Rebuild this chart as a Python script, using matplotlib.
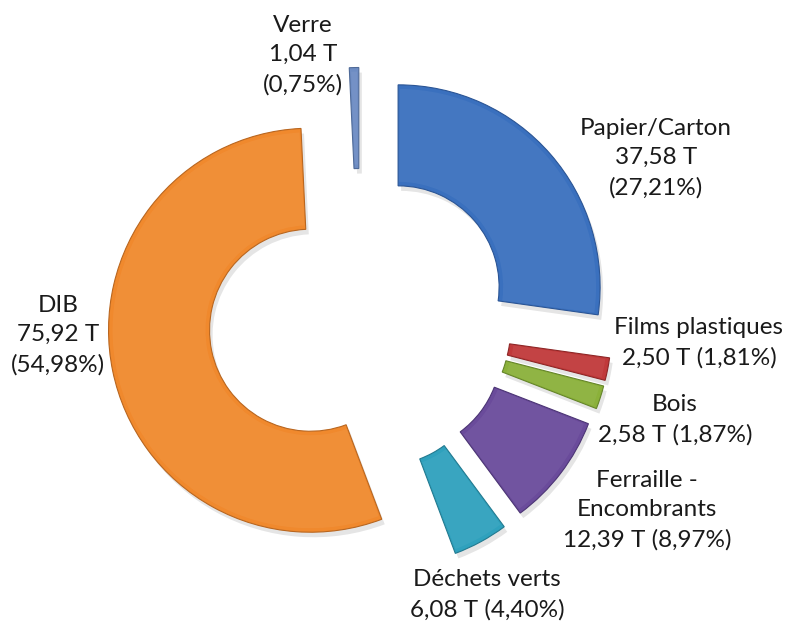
import matplotlib
matplotlib.use("Agg")
import matplotlib.pyplot as plt
from matplotlib.patches import Wedge

plt.rcParams['font.family'] = ['Lato', 'DejaVu Sans']

# données (tonnes)
noms = ["Papier/Carton", "Films plastiques", "Bois", "Ferraille -\nEncombrants",
        "Déchets verts", "DIB", "Verre"]
tonnes = [37.58, 2.50, 2.58, 12.39, 6.08, 75.92, 1.04]
couleurs = ["#3a70be", "#c0393a", "#8bb13a", "#6a4b9b", "#2fa1bd", "#f0892d", "#6d8cc3"]
bords = ["#2b5595", "#8e2626", "#65852a", "#4c3575", "#227a90", "#b9661f", "#4f6a98"]
sep = ["\n", " ", " ", " ", " ", "\n", "\n"]

# position des étiquettes en pixels (x, y centre du bloc)
pos_lab = [(656, 158), (699, 343), (675, 420), (647, 510), (487, 595), (58, 335), (303, 55)]

W, H = 787, 624
cx, cy, R = 360, 320, 202

fig = plt.figure(figsize=(W / 100, H / 100), dpi=100)
ax = fig.add_axes([0, 0, 1, 1])

total = sum(tonnes)
wedges, _ = ax.pie(tonnes, startangle=90, counterclock=False,
                   explode=[0.25] * len(tonnes), radius=1,
                   colors=couleurs,
                   wedgeprops=dict(width=0.5, linewidth=0.8))
for w, b in zip(wedges, bords):
    w.set_edgecolor(b)
    w.set_zorder(3)
    # ombre portée légère
    sh = Wedge((w.center[0] + 0.015, w.center[1] - 0.025), w.r, w.theta1, w.theta2,
               width=w.width, facecolor="#000000", alpha=0.10, linewidth=0, zorder=2)
    ax.add_patch(sh)
    # reflet du biseau
    hl = Wedge(w.center, w.r - 0.02, w.theta1 + 0.5, w.theta2 - 0.5,
               width=w.width - 0.04, facecolor="white", alpha=0.05,
               linewidth=0, zorder=4)
    ax.add_patch(hl)

for nom, t, s, (px, py) in zip(noms, tonnes, sep, pos_lab):
    pct = 100 * t / total
    txt = f"{nom}\n{t:.2f} T{s}({pct:.2f}%)".replace(".", ",")
    ax.text((px - cx) / R, (cy - py) / R, txt, ha="center", va="center",
            fontsize=17.5, color="#1a1a1a", linespacing=1.5, zorder=5)

ax.set_xlim(-cx / R, (W - cx) / R)
ax.set_ylim(-(H - cy) / R, cy / R)
ax.set_aspect("equal", adjustable="box")
ax.axis("off")

fig.savefig("out.png", dpi=100)
